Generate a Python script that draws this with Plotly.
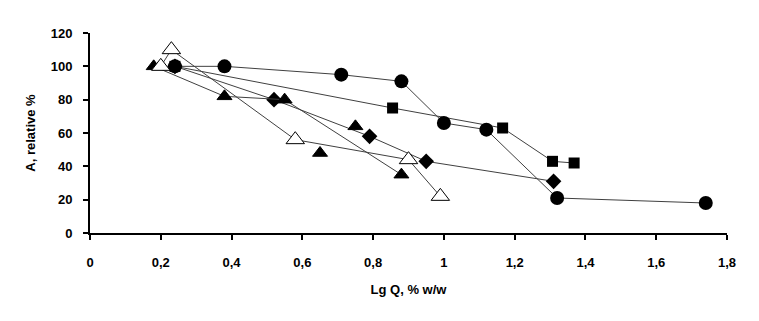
import plotly.graph_objects as go

# Data (Lg Q, A relative %)
circ_x = [0.24, 0.38, 0.71, 0.88, 1.00, 1.12, 1.32, 1.74]
circ_y = [100, 100, 95, 91, 66, 62, 21, 18]

sq_x = [0.24, 0.855, 1.166, 1.307, 1.368]
sq_y = [100, 75, 63, 43, 42]

dia_x = [0.24, 0.52, 0.79, 0.95, 1.31]
dia_y = [100, 80, 58, 43, 31]

tri_x = [0.18, 0.38, 0.55, 0.88]
tri_y = [100, 82, 80, 35]

tri2_x = [0.65, 0.75]
tri2_y = [48, 64]

otri_x = [0.20, 0.23, 0.58, 0.90, 0.99]
otri_y = [100, 110, 56, 44, 22]

x_ticks = [0, 0.2, 0.4, 0.6, 0.8, 1.0, 1.2, 1.4, 1.6, 1.8]
x_labels = ["0", "0,2", "0,4", "0,6", "0,8", "1", "1,2", "1,4", "1,6", "1,8"]

LINE = dict(color="#404040", width=1)
FONT = "Arial, Liberation Sans, sans-serif"

fig = go.Figure()
fig.add_trace(go.Scatter(x=sq_x, y=sq_y, mode="lines+markers", line=LINE,
                         marker=dict(symbol="square", size=11, color="black")))
fig.add_trace(go.Scatter(x=dia_x, y=dia_y, mode="lines+markers", line=LINE,
                         marker=dict(symbol="diamond", size=12, color="black")))
fig.add_trace(go.Scatter(x=circ_x, y=circ_y, mode="lines+markers", line=LINE,
                         marker=dict(symbol="circle", size=14, color="black")))
fig.add_trace(go.Scatter(x=tri_x, y=tri_y, mode="lines+markers", line=LINE,
                         marker=dict(symbol="triangle-up", size=13, color="black",
                                     line=dict(color="black", width=1))))
fig.add_trace(go.Scatter(x=tri2_x, y=tri2_y, mode="markers",
                         marker=dict(symbol="triangle-up", size=13, color="black",
                                     line=dict(color="black", width=1))))
fig.add_trace(go.Scatter(x=otri_x, y=otri_y, mode="lines+markers", line=LINE,
                         marker=dict(symbol="triangle-up", size=16, color="white",
                                     line=dict(color="black", width=1))))
fig.update_traces(cliponaxis=False)

fig.update_layout(
    width=759, height=321,
    margin=dict(l=90, r=32, t=33, b=88),
    plot_bgcolor="white", paper_bgcolor="white",
    showlegend=False,
    font=dict(family=FONT, size=13, color="black"),
    xaxis=dict(range=[0, 1.8], tickvals=x_ticks, ticktext=x_labels,
               showgrid=False, zeroline=False,
               showline=True, linecolor="black", linewidth=2,
               ticks="outside", ticklen=5, tickwidth=2, tickcolor="black",
               ticklabelstandoff=11,
               tickfont=dict(size=13, weight="bold"),
               title=dict(text="Lg Q, % w/w", font=dict(size=13, weight="bold"), standoff=16)),
    yaxis=dict(range=[0, 120], dtick=20, tick0=0, showgrid=False, zeroline=False,
               showline=True, linecolor="black", linewidth=2,
               ticks="outside", ticklen=5, tickwidth=2, tickcolor="black",
               ticklabelstandoff=8,
               tickfont=dict(size=13, weight="bold"),
               title=dict(text="A, relative %", font=dict(size=13, weight="bold"), standoff=12)),
)

fig.write_html("out.html")
